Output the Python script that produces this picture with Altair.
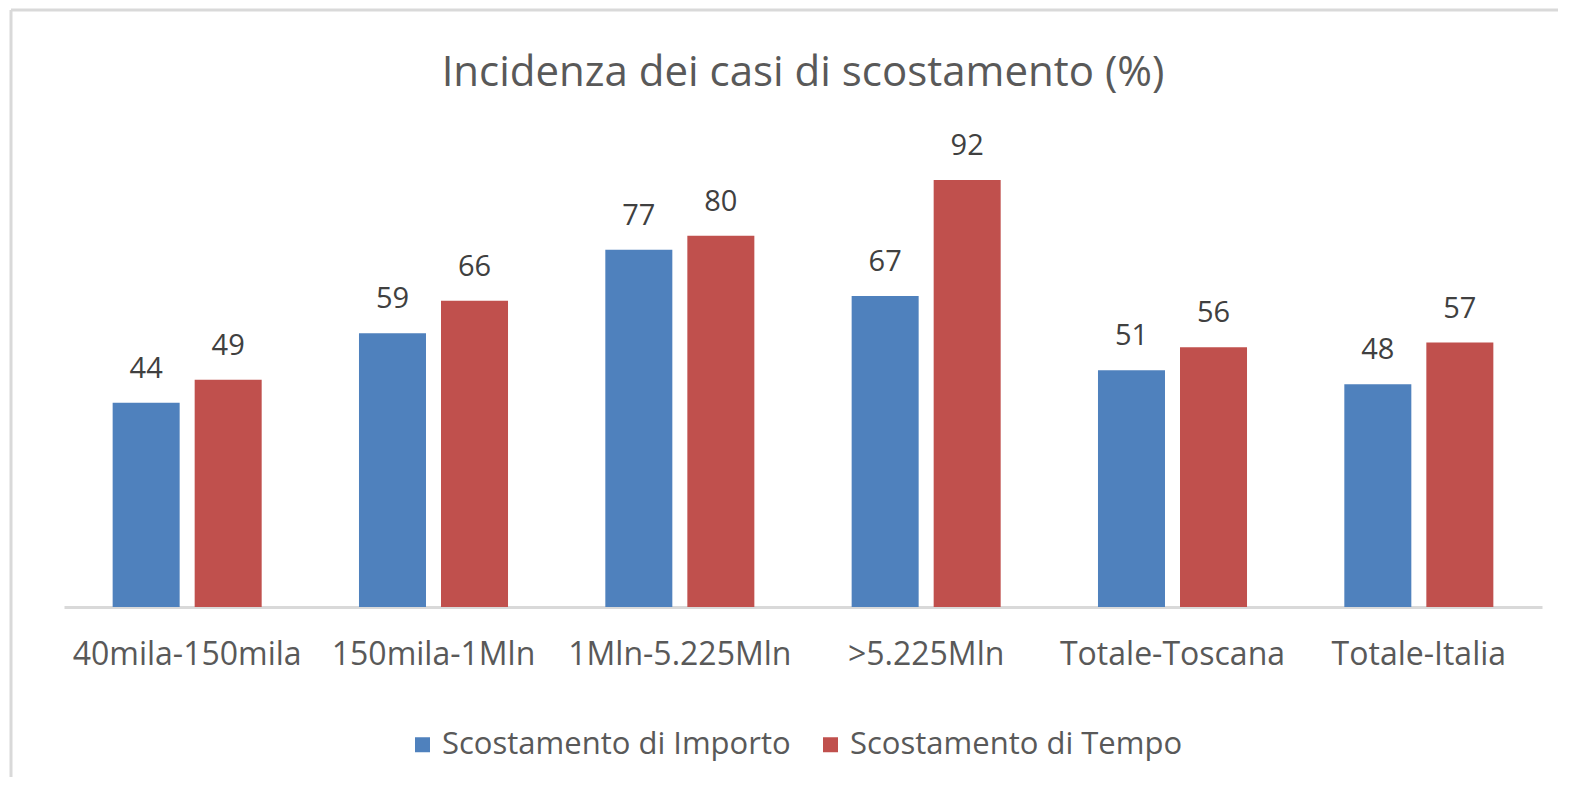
import altair as alt
import pandas as pd

categories = ["40mila-150mila", "150mila-1Mln", "1Mln-5.225Mln", ">5.225Mln", "Totale-Toscana", "Totale-Italia"]
series = ["Scostamento di Importo", "Scostamento di Tempo"]
importo = [44, 59, 77, 67, 51, 48]
tempo = [49, 66, 80, 92, 56, 57]
colors = ["#4F81BD", "#C0504D"]

rows = []
for c, a, b in zip(categories, importo, tempo):
    rows.append({"cat": c, "serie": series[0], "val": a})
    rows.append({"cat": c, "serie": series[1], "val": b})
df = pd.DataFrame(rows)

FONT = "Open Sans"
W, H = 1478, 464

x = alt.X("cat:N", sort=categories, title=None,
          scale=alt.Scale(paddingInner=0.395, paddingOuter=0.1975),
          axis=alt.Axis(labelAngle=0, labelFontSize=32, labelColor="#595959", labelFont=FONT,
                        labelPadding=47, ticks=False, domainColor="#D9D9D9", domainWidth=3,
                        labelBaseline="middle", labelLimit=0))
xo = alt.XOffset("serie:N", sort=series, scale=alt.Scale(paddingInner=0.183, paddingOuter=0))
y = alt.Y("val:Q", scale=alt.Scale(domain=[0, 100]), axis=None)
color = alt.Color("serie:N", sort=series, title=None,
                  scale=alt.Scale(domain=series, range=colors),
                  legend=alt.Legend(orient="none", legendX=343, legendY=586, direction="horizontal",
                                    symbolType="square", symbolSize=225, symbolStrokeWidth=0,
                                    labelFontSize=31, labelColor="#595959", labelFont=FONT,
                                    labelLimit=0, columnPadding=24, symbolOffset=0, padding=0,
                                    labelOffset=4))

base = alt.Chart(df)
bars = base.mark_bar().encode(x=x, xOffset=xo, y=y, color=color)
labels = base.mark_text(baseline="bottom", dy=-19, fontSize=29, font=FONT, color="#404040").encode(
    x=x, xOffset=xo, y=y, text=alt.Text("val:Q"))

frame_v = alt.Chart(pd.DataFrame({"k": [0]})).mark_rule(color="#D9D9D9", strokeWidth=3, clip=False).encode(
    x=alt.value(-53), y=alt.value(-133), y2=alt.value(700))
frame_h = alt.Chart(pd.DataFrame({"k": [0]})).mark_rule(color="#D9D9D9", strokeWidth=3, clip=False).encode(
    x=alt.value(-53), x2=alt.value(1540), y=alt.value(-133))

chart = alt.layer(frame_v, frame_h, bars, labels).properties(
    width=W, height=H,
    title=alt.TitleParams("Incidenza dei casi di scostamento (%)", fontSize=42, font=FONT,
                          color="#595959", fontWeight="normal", anchor="middle", offset=-86),
    padding={"left": 56, "top": 135, "right": 16, "bottom": 170},
    autosize=alt.AutoSizeParams(type="none"),
).configure(background="white").configure_view(strokeWidth=0, stroke=None)

chart.save("out.html", embed_options={"renderer": "svg", "actions": False})
